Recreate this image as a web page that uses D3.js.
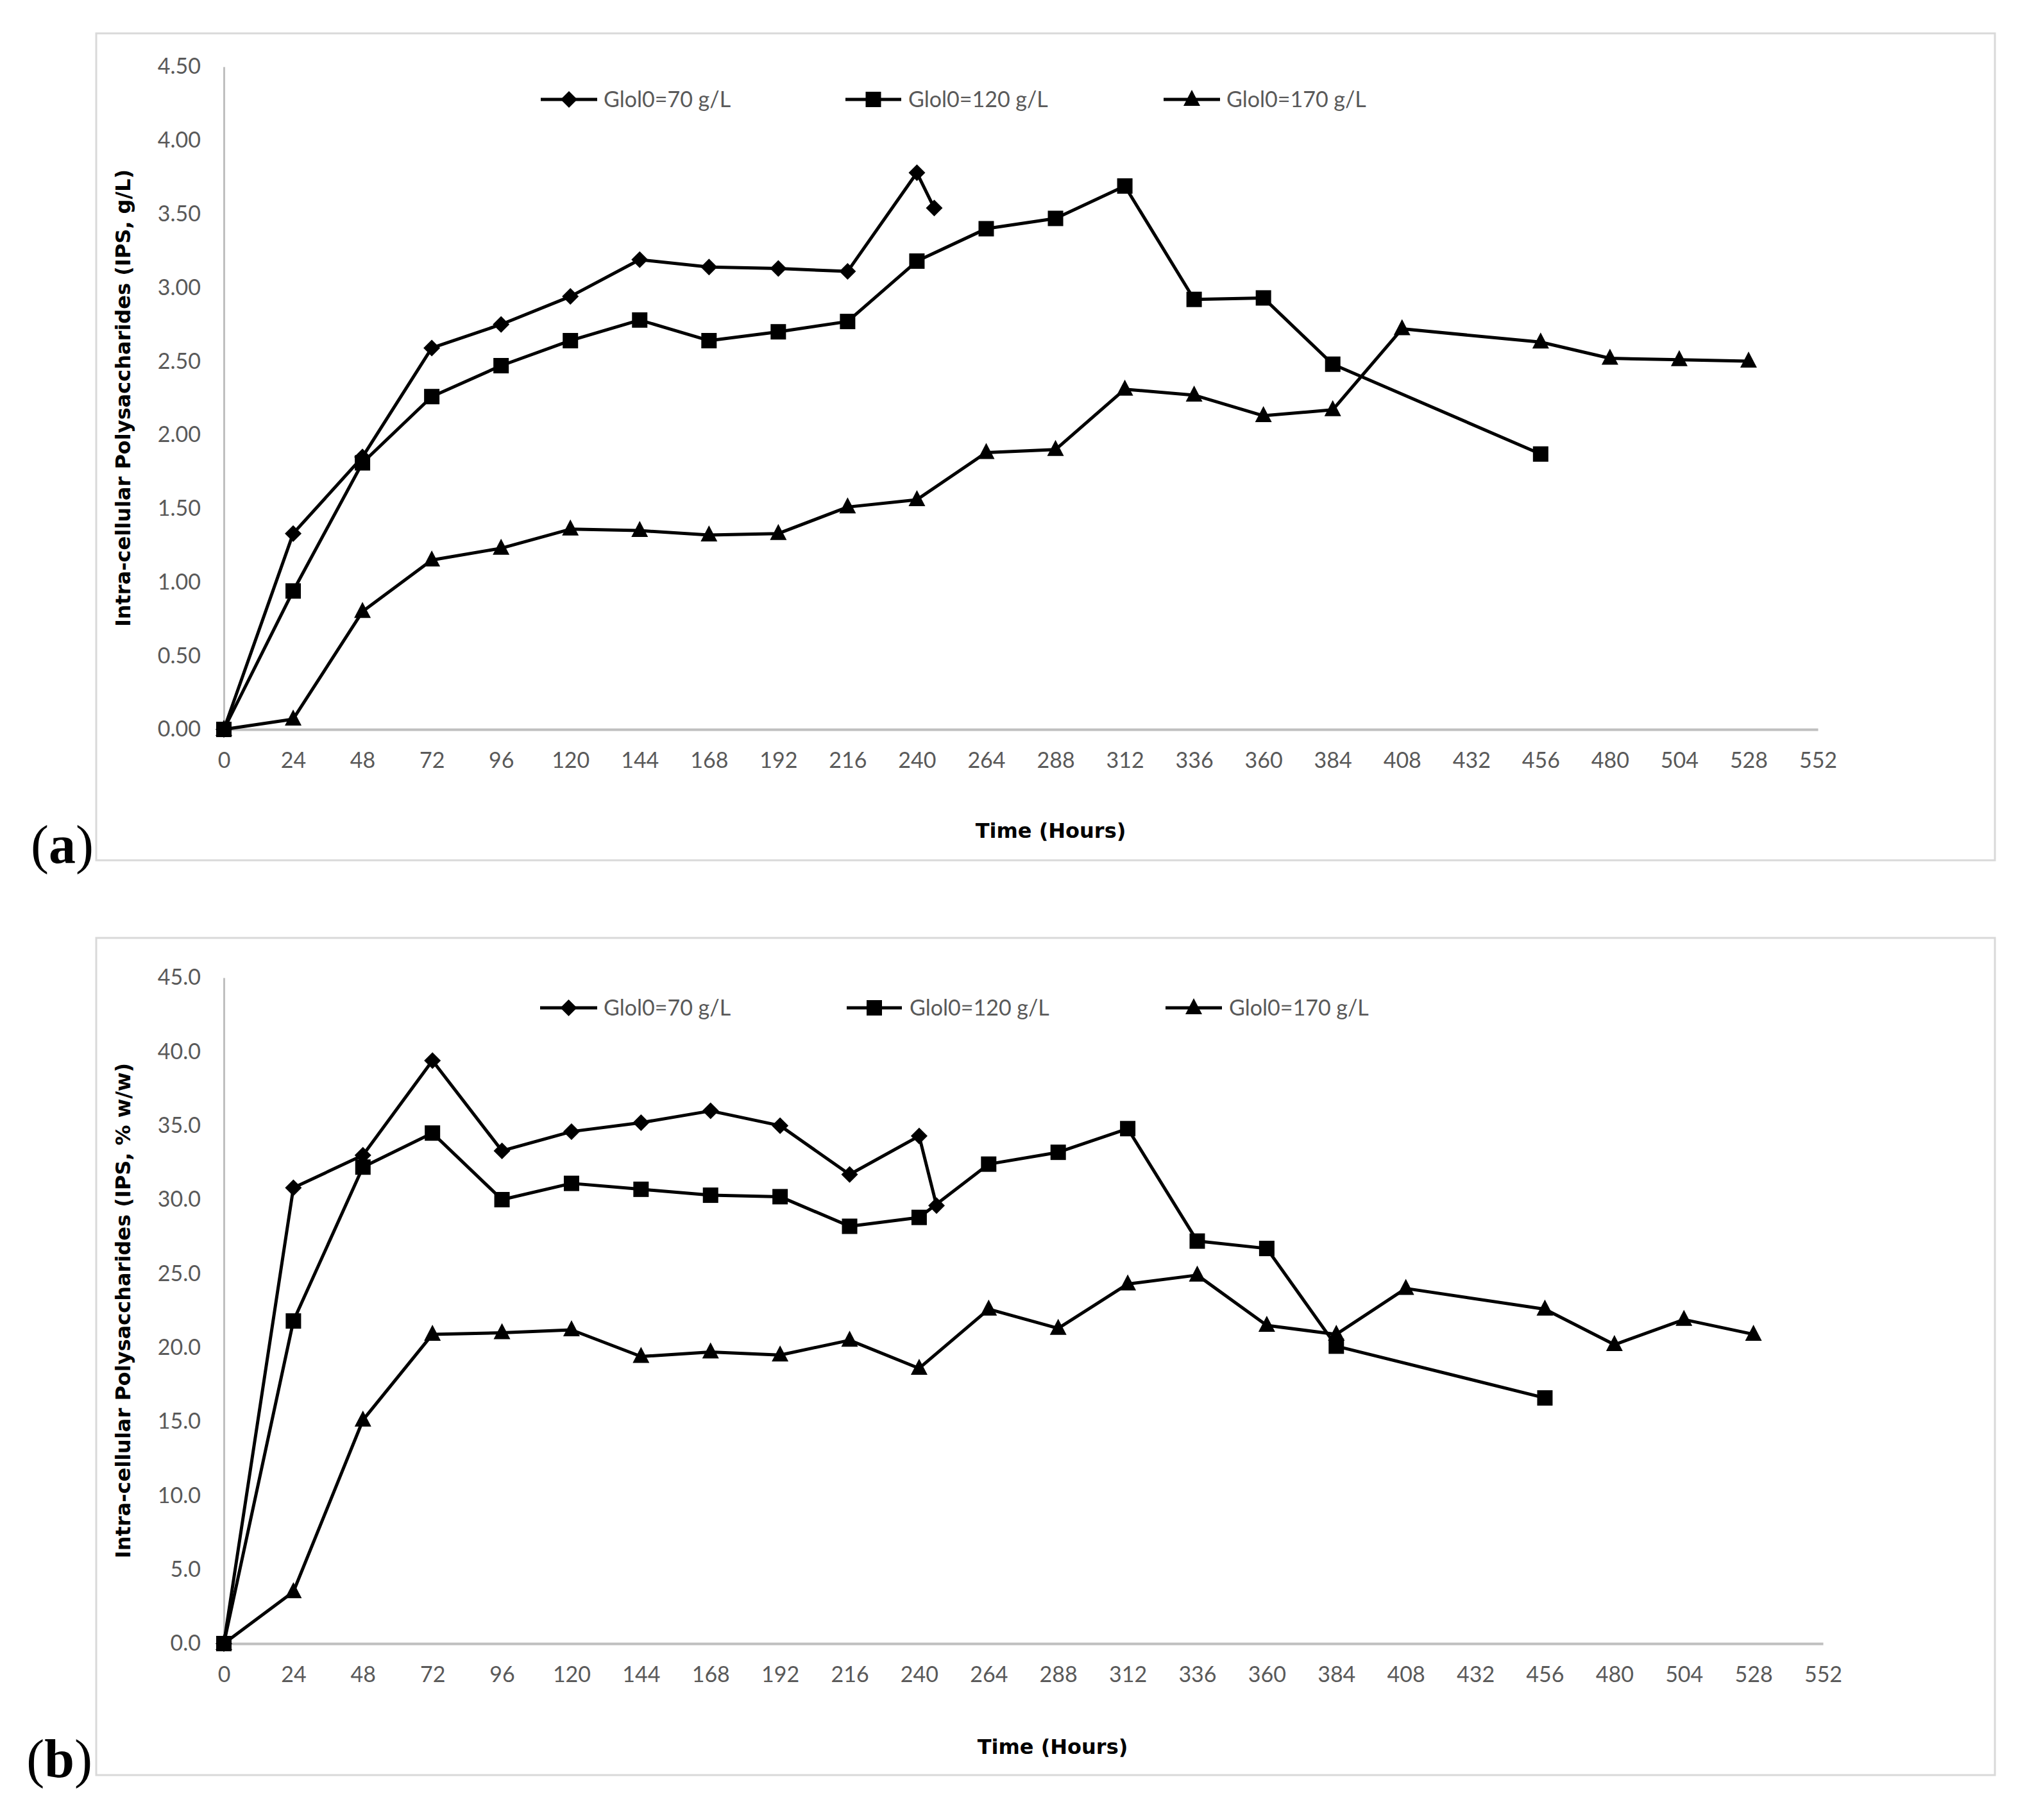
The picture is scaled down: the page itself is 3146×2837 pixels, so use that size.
<!DOCTYPE html>
<html>
<head>
<meta charset="utf-8">
<script src="https://cdn.jsdelivr.net/npm/d3@7"></script>
<style>
  html, body { margin: 0; padding: 0; background: #ffffff; }
  svg { display: block; }
</style>
</head>
<body>
<svg id="chart" width="3146" height="2837"></svg>
<script>
// ---------------- DATA ----------------
const seriesNames = ["Glol0=70 g/L", "Glol0=120 g/L", "Glol0=170 g/L"];
const xTickValues = [0, 24, 48, 72, 96, 120, 144, 168, 192, 216, 240, 264, 288, 312, 336, 360, 384, 408, 432, 456, 480, 504, 528, 552];
const yTicksA = [0, 0.5, 1.0, 1.5, 2.0, 2.5, 3.0, 3.5, 4.0, 4.5];
const yTicksB = [0, 5, 10, 15, 20, 25, 30, 35, 40, 45];

const time70  = [0, 24, 48, 72, 96, 120, 144, 168, 192, 216, 240, 246];
const time120 = [0, 24, 48, 72, 96, 120, 144, 168, 192, 216, 240, 264, 288, 312, 336, 360, 384, 456];
const time170 = [0, 24, 48, 72, 96, 120, 144, 168, 192, 216, 240, 264, 288, 312, 336, 360, 384, 408, 456, 480, 504, 528];

// (a) IPS, g/L
const ipsGL70  = [0, 1.33, 1.85, 2.59, 2.75, 2.94, 3.19, 3.14, 3.13, 3.11, 3.78, 3.54];
const ipsGL120 = [0, 0.94, 1.81, 2.26, 2.47, 2.64, 2.78, 2.64, 2.70, 2.77, 3.18, 3.40, 3.47, 3.69, 2.92, 2.93, 2.48, 1.87];
const ipsGL170 = [0, 0.07, 0.80, 1.15, 1.23, 1.36, 1.35, 1.32, 1.33, 1.51, 1.56, 1.88, 1.90, 2.31, 2.27, 2.13, 2.17, 2.72, 2.63, 2.52, 2.51, 2.50];

// (b) IPS, % w/w
const ipsPct70  = [0, 30.8, 33.0, 39.4, 33.3, 34.6, 35.2, 36.0, 35.0, 31.7, 34.3, 29.6];
const ipsPct120 = [0, 21.8, 32.2, 34.5, 30.0, 31.1, 30.7, 30.3, 30.2, 28.2, 28.8, 32.4, 33.2, 34.8, 27.2, 26.7, 20.1, 16.6];
const ipsPct170 = [0, 3.5, 15.1, 20.9, 21.0, 21.2, 19.4, 19.7, 19.5, 20.5, 18.6, 22.6, 21.3, 24.3, 24.9, 21.5, 20.9, 24.0, 22.6, 20.2, 21.9, 20.9];

// ---------------- STYLE / LAYOUT ----------------
const TICK_FONT = "Lato, 'Open Sans', sans-serif";
const TITLE_FONT = "'DejaVu Sans', Verdana, sans-serif";
const GRAY_TEXT = "#595959";
const AXIS_GRAY = "#bfbfbf";
const BOX_GRAY = "#d9d9d9";

const markerTypes = ["diamond", "square", "triangle"];

function markerPath(type) {
  if (type === "diamond") {
    const h = 13;
    return `M0,${-h}L${h},0L0,${h}L${-h},0Z`;
  }
  if (type === "square") {
    const s = 12;
    return `M${-s},${-s}H${s}V${s}H${-s}Z`;
  }
  // triangle
  return `M0,-15L13,10L-13,10Z`;
}

const svg = d3.select("#chart");
svg.append("rect").attr("width", 3146).attr("height", 2837).attr("fill", "#ffffff");

function drawPanel(cfg) {
  const g = svg.append("g");

  // outer frame
  g.append("rect")
    .attr("x", cfg.box[0]).attr("y", cfg.box[1])
    .attr("width", cfg.box[2] - cfg.box[0]).attr("height", cfg.box[3] - cfg.box[1])
    .attr("fill", "none").attr("stroke", BOX_GRAY).attr("stroke-width", 3);

  const x = d3.scaleLinear().domain([0, 552]).range([cfg.x0, cfg.x1]);
  const y = d3.scaleLinear().domain([0, cfg.yMax]).range([cfg.y0, cfg.y1]);

  // x axis
  const xAxis = d3.axisBottom(x).tickValues(xTickValues).tickSize(0).tickPadding(36).tickFormat(d3.format("d"));
  const gx = g.append("g").attr("transform", `translate(0,${cfg.y0})`).call(xAxis);
  gx.select(".domain").attr("stroke", AXIS_GRAY).attr("stroke-width", 4);
  gx.selectAll("text").attr("font-family", TICK_FONT).attr("font-size", 34).attr("fill", GRAY_TEXT);

  // y axis
  const yAxis = d3.axisLeft(y).tickValues(cfg.yTicks).tickSize(0).tickPadding(36).tickFormat(d3.format(cfg.yFmt));
  const gy = g.append("g").attr("transform", `translate(${cfg.x0},0)`).call(yAxis);
  gy.select(".domain").attr("stroke", AXIS_GRAY).attr("stroke-width", 3);
  gy.selectAll("text").attr("font-family", TICK_FONT).attr("font-size", 34).attr("fill", GRAY_TEXT);

  // series
  const line = d3.line().x(d => x(d[0])).y(d => y(d[1]));
  cfg.series.forEach((s, i) => {
    const pts = s.t.map((t, k) => [t, s.v[k]]);
    g.append("path").datum(pts)
      .attr("d", line)
      .attr("fill", "none").attr("stroke", "#000").attr("stroke-width", 5)
      .attr("stroke-linejoin", "round");
    g.selectAll(null).data(pts).enter().append("path")
      .attr("d", markerPath(markerTypes[i]))
      .attr("transform", d => `translate(${x(d[0])},${y(d[1])})`)
      .attr("fill", "#000");
  });

  // legend
  const leg = g.append("g");
  seriesNames.forEach((name, i) => {
    const L = cfg.legend[i];
    leg.append("line").attr("x1", L[0]).attr("x2", L[1]).attr("y1", cfg.legendY).attr("y2", cfg.legendY)
      .attr("stroke", "#000").attr("stroke-width", 5);
    leg.append("path").attr("d", markerPath(markerTypes[i]))
      .attr("transform", `translate(${(L[0] + L[1]) / 2},${cfg.legendY})`).attr("fill", "#000");
    leg.append("text").attr("x", L[2]).attr("y", cfg.legendY).attr("dy", "0.36em")
      .attr("font-family", TICK_FONT).attr("font-size", 34).attr("fill", GRAY_TEXT)
      .text(name);
  });

  // axis titles
  g.append("text")
    .attr("transform", `translate(${cfg.yTitleX},${(cfg.y0 + cfg.y1) / 2}) rotate(-90)`)
    .attr("text-anchor", "middle").attr("dy", "0.36em")
    .attr("font-family", TITLE_FONT).attr("font-weight", "bold").attr("font-size", 32).attr("fill", "#000")
    .text(cfg.yTitle);
  g.append("text")
    .attr("x", cfg.xTitleX).attr("y", cfg.xTitleY)
    .attr("text-anchor", "middle")
    .attr("font-family", TITLE_FONT).attr("font-weight", "bold").attr("font-size", 32).attr("fill", "#000")
    .text("Time (Hours)");

  // panel letter
  const lab = g.append("text").attr("x", cfg.labelX).attr("y", cfg.labelY)
    .attr("text-anchor", "end")
    .attr("font-family", "'Liberation Serif', 'Times New Roman', serif").attr("font-size", 84).attr("fill", "#000");
  lab.append("tspan").text("(");
  lab.append("tspan").attr("font-weight", "bold").text(cfg.letter);
  lab.append("tspan").text(")");
}

drawPanel({
  box: [150, 52, 3110, 1341],
  x0: 349, x1: 2834, y0: 1137, y1: 104,
  yMax: 4.5, yTicks: yTicksA, yFmt: ".2f",
  series: [
    { t: time70, v: ipsGL70 },
    { t: time120, v: ipsGL120 },
    { t: time170, v: ipsGL170 }
  ],
  legendY: 155,
  legend: [[843, 931, 941], [1318, 1405, 1416], [1814, 1902, 1912]],
  yTitle: "Intra-cellular Polysaccharides (IPS, g/L)",
  yTitleX: 191,
  xTitleX: 1638, xTitleY: 1306,
  labelX: 146, labelY: 1345, letter: "a"
});

drawPanel({
  box: [150, 1462, 3110, 2767],
  x0: 349, x1: 2842, y0: 2562, y1: 1524,
  yMax: 45, yTicks: yTicksB, yFmt: ".1f",
  series: [
    { t: time70, v: ipsPct70 },
    { t: time120, v: ipsPct120 },
    { t: time170, v: ipsPct170 }
  ],
  legendY: 1571,
  legend: [[842, 931, 941], [1320, 1406, 1418], [1817, 1905, 1916]],
  yTitle: "Intra-cellular Polysaccharides (IPS, % w/w)",
  yTitleX: 191,
  xTitleX: 1641, xTitleY: 2734,
  labelX: 144, labelY: 2770, letter: "b"
});
</script>
</body>
</html>
